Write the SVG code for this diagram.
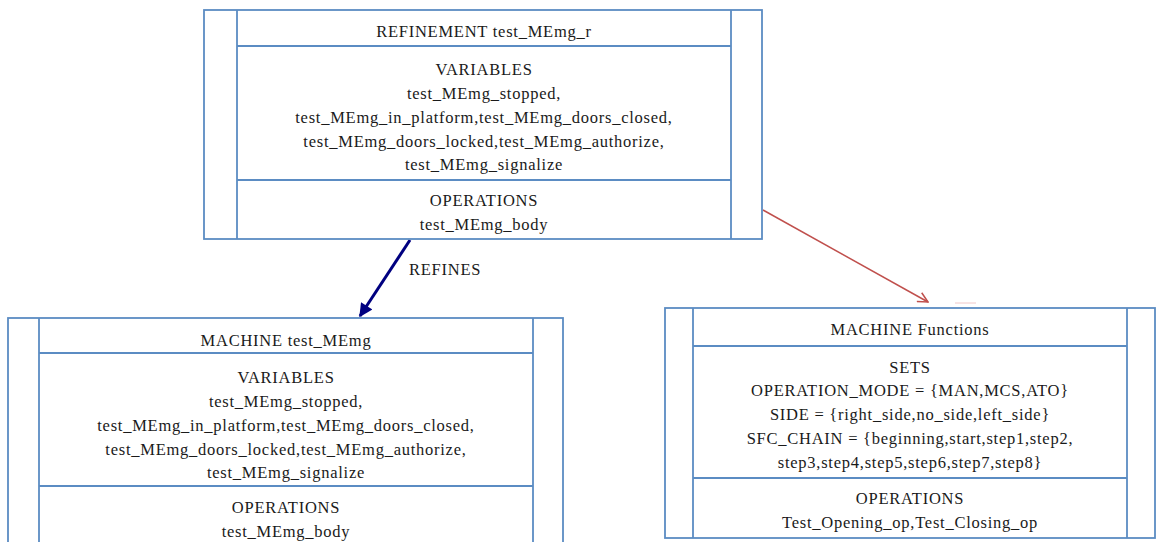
<svg xmlns="http://www.w3.org/2000/svg" width="1157" height="542" viewBox="0 0 1157 542">
<defs>
<style>
.box{fill:none;stroke:#5b8cc3;stroke-width:1.8}
.ln{stroke:#5b8cc3;stroke-width:1.8}
text{font-family:"Liberation Serif",Tinos,"Times New Roman",Times,serif;font-size:16.5px;letter-spacing:0.75px;fill:#1a1a1a}
.t{text-anchor:middle}
</style>
<marker id="blueHead" viewBox="0 0 10 10" refX="9" refY="5" markerWidth="5" markerHeight="4.5" orient="auto" markerUnits="strokeWidth">
<path d="M0,0 L10,5 L0,10 Z" fill="#000080"/>
</marker>
<marker id="redHead" viewBox="0 0 12 12" refX="11" refY="6" markerWidth="12" markerHeight="12" orient="auto" markerUnits="userSpaceOnUse">
<path d="M1,1 L11,6 L1,11" fill="none" stroke="#c0504d" stroke-width="1.5"/>
</marker>
</defs>
<rect width="1157" height="542" fill="#ffffff"/>

<g id="connectors">
<line x1="410" y1="240" x2="360" y2="316" stroke="#000080" stroke-width="3" marker-end="url(#blueHead)"/>
<text x="409" y="275">REFINES</text>
<line x1="763" y1="210" x2="928" y2="302" stroke="#c0504d" stroke-width="1.5" marker-end="url(#redHead)"/>
<line x1="955" y1="303" x2="976" y2="303" stroke="#f0c8c8" stroke-width="1"/>
</g>

<g id="refinement">
<rect class="box" x="204" y="10" width="558" height="229"/>
<line class="ln" x1="237" y1="10" x2="237" y2="239"/>
<line class="ln" x1="731" y1="10" x2="731" y2="239"/>
<line class="ln" x1="237" y1="46" x2="731" y2="46"/>
<line class="ln" x1="237" y1="180" x2="731" y2="180"/>
<text class="t" x="484" y="37">REFINEMENT test_MEmg_r</text>
<text class="t" x="484" y="75">VARIABLES</text>
<text class="t" x="484" y="99">test_MEmg_stopped,</text>
<text class="t" x="484" y="123">test_MEmg_in_platform,test_MEmg_doors_closed,</text>
<text class="t" x="484" y="147">test_MEmg_doors_locked,test_MEmg_authorize,</text>
<text class="t" x="484" y="170">test_MEmg_signalize</text>
<text class="t" x="484" y="206">OPERATIONS</text>
<text class="t" x="484" y="230">test_MEmg_body</text>
</g>

<g id="machine-test">
<rect class="box" x="8" y="318" width="555" height="240"/>
<line class="ln" x1="39" y1="318" x2="39" y2="560"/>
<line class="ln" x1="533" y1="318" x2="533" y2="560"/>
<line class="ln" x1="39" y1="353" x2="533" y2="353"/>
<line class="ln" x1="39" y1="486" x2="533" y2="486"/>
<text class="t" x="286" y="346">MACHINE test_MEmg</text>
<text class="t" x="286" y="383">VARIABLES</text>
<text class="t" x="286" y="407">test_MEmg_stopped,</text>
<text class="t" x="286" y="431">test_MEmg_in_platform,test_MEmg_doors_closed,</text>
<text class="t" x="286" y="455">test_MEmg_doors_locked,test_MEmg_authorize,</text>
<text class="t" x="286" y="478">test_MEmg_signalize</text>
<text class="t" x="286" y="513">OPERATIONS</text>
<text class="t" x="286" y="537">test_MEmg_body</text>
</g>

<g id="machine-functions">
<rect class="box" x="665" y="308" width="490" height="230"/>
<line class="ln" x1="693" y1="308" x2="693" y2="538"/>
<line class="ln" x1="1127" y1="308" x2="1127" y2="538"/>
<line class="ln" x1="693" y1="346" x2="1127" y2="346"/>
<line class="ln" x1="693" y1="478" x2="1127" y2="478"/>
<text class="t" x="910" y="335">MACHINE Functions</text>
<text class="t" x="910" y="373">SETS</text>
<text class="t" x="910" y="396">OPERATION_MODE = {MAN,MCS,ATO}</text>
<text class="t" x="910" y="420">SIDE = {right_side,no_side,left_side}</text>
<text class="t" x="910" y="444">SFC_CHAIN = {beginning,start,step1,step2,</text>
<text class="t" x="910" y="468">step3,step4,step5,step6,step7,step8}</text>
<text class="t" x="910" y="504">OPERATIONS</text>
<text class="t" x="910" y="528">Test_Opening_op,Test_Closing_op</text>
</g>
</svg>
